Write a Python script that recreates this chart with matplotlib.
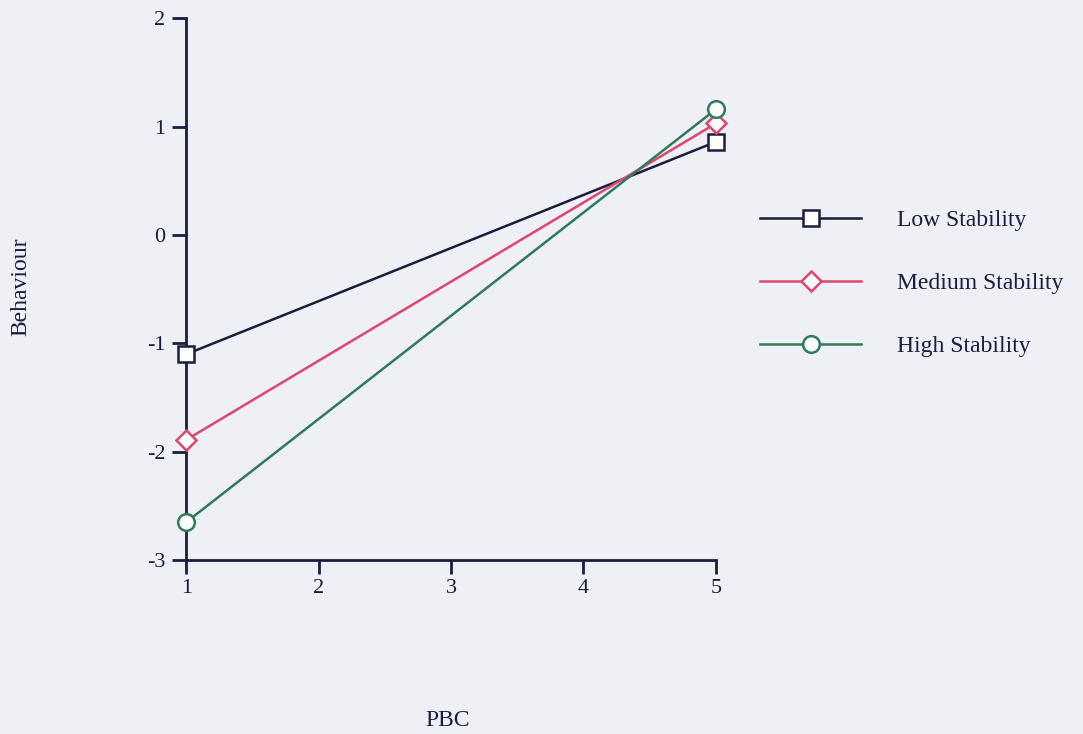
import numpy as np
import matplotlib.pyplot as plt

# Data
pbc = [1, 5]
low = [-1.10, 0.86]
medium = [-1.89, 1.03]
high = [-2.65, 1.16]
series = ['Low Stability', 'Medium Stability', 'High Stability']
xticks = [1, 2, 3, 4, 5]
yticks = [-3, -2, -1, 0, 1, 2]

plt.rcParams['font.family'] = ['Liberation Serif', 'DejaVu Serif']
plt.rcParams['axes.unicode_minus'] = False

bg = '#eef0f6'
ink = '#1c1c3c'
fig = plt.figure(figsize = (10.83, 7.34), dpi = 100, facecolor = bg)
ax = fig.add_axes([0.172, 0.237, 0.489, 0.738], facecolor = bg)

styles = [(ink, 's', 12), ('#e0456e', 'D', 10), ('#2f7a58', 'o', 12)]
for vals, name, (col, mk, ms) in zip([low, medium, high], series, styles):
    ax.plot(pbc, vals, color = col, lw = 1.8, marker = mk, ms = ms,
            mfc = 'white', mec = col, mew = 1.8, label = name, clip_on = False, zorder = 3)

ax.set_xlim(1, 5)
ax.set_ylim(-3, 2)
ax.set_xticks(xticks)
ax.set_yticks(yticks)
for s in ['top', 'right']:
    ax.spines[s].set_visible(False)
for s in ['left', 'bottom']:
    ax.spines[s].set_color(ink)
    ax.spines[s].set_linewidth(2)
ax.tick_params(colors = ink, labelsize = 16, length = 10, width = 2, direction = 'out')
ax.tick_params(axis = 'y', pad = 5)
ax.tick_params(axis = 'x', pad = 4)

fig.text(0.019, 0.61, 'Behaviour', rotation = 90, ha = 'center', va = 'center',
         fontsize = 17, color = ink)
fig.text(0.413, 0.019, 'PBC', ha = 'center', va = 'center', fontsize = 17, color = ink)

ax.legend(loc = 'center left', bbox_to_anchor = (1.043, 0.511), frameon = False,
          fontsize = 17, handlelength = 4.3, handletextpad = 1.5, labelspacing = 1.76,
          labelcolor = ink)

plt.savefig('out.png', facecolor = bg)
